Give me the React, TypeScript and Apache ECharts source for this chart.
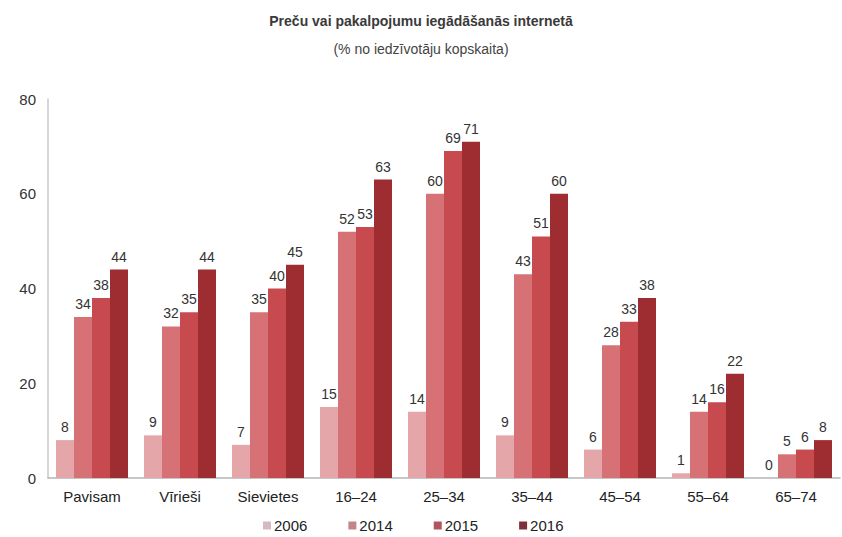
import React, { useEffect, useRef } from "react";
import * as echarts from "echarts";

const categories = ["Pavisam", "Vīrieši", "Sievietes", "16–24", "25–34", "35–44", "45–54", "55–64", "65–74"];
const years = ["2006", "2014", "2015", "2016"];
const v2006 = [8, 9, 7, 15, 14, 9, 6, 1, 0];
const v2014 = [34, 32, 35, 52, 60, 43, 28, 14, 5];
const v2015 = [38, 35, 40, 53, 69, 51, 33, 16, 6];
const v2016 = [44, 44, 45, 63, 71, 60, 38, 22, 8];
const yTicks = [0, 20, 40, 60, 80];

const colors = ["#e4a6a9", "#d67175", "#c74a4f", "#9e2d32"];
const legendColors = ["#d6b9be", "#c4848b", "#b3545c", "#7c3039"];
const FONT = "Liberation Sans, Arial, sans-serif";

export default function App() {
  const ref = useRef<HTMLDivElement>(null);
  useEffect(() => {
    if (!ref.current) return;
    const chart = echarts.init(ref.current, undefined, { renderer: "svg" });
    const values = [v2006, v2014, v2015, v2016];
    chart.setOption({
      animation: false,
      textStyle: { fontFamily: FONT },
      title: [
        {
          text: "Preču vai pakalpojumu iegādāšanās internetā",
          left: "center",
          top: 9,
          textStyle: { fontSize: 14, fontWeight: "bold", color: "#3a3a3a", fontFamily: FONT },
        },
        {
          text: "(% no iedzīvotāju kopskaita)",
          left: "center",
          top: 37,
          textStyle: { fontSize: 14, fontWeight: "normal", color: "#444", fontFamily: FONT },
        },
      ],
      legend: {
        top: 515,
        left: 258,
        itemWidth: 8,
        itemHeight: 8,
        itemGap: 41,
        icon: "rect",
        padding: [3, 5, 2, 5],
        textStyle: { fontSize: 15, color: "#222", fontFamily: FONT, padding: [0, 0, 0, -2] },
        data: years.map((y, i) => ({ name: y, itemStyle: { color: legendColors[i] } })),
      },
      grid: { left: 48, right: 2, top: 99, bottom: 59, containLabel: false },
      xAxis: {
        type: "category",
        data: categories,
        axisLine: { show: true, lineStyle: { color: "#b5b5b5", width: 1.5 } },
        axisTick: { show: false },
        axisLabel: { fontSize: 15, color: "#222", margin: 11, fontFamily: FONT },
      },
      yAxis: {
        type: "value",
        min: yTicks[0],
        max: yTicks[yTicks.length - 1],
        interval: 20,
        axisLine: { show: true, lineStyle: { color: "#c8c8c8", width: 1.5 } },
        axisTick: { show: false },
        splitLine: { show: false },
        axisLabel: { fontSize: 15, color: "#333", margin: 12, fontFamily: FONT },
      },
      series: years.map((y, i) => ({
        name: y,
        type: "bar",
        data: values[i],
        barWidth: 18,
        barGap: "0%",
        itemStyle: { color: colors[i] },
        label: {
          show: true,
          position: "top",
          distance: 6,
          fontSize: 14,
          color: "#333",
          fontFamily: FONT,
        },
      })),
    });
    return () => chart.dispose();
  }, []);
  return (
    <div
      ref={ref}
      style={{ position: "fixed", left: 0, top: 0, width: 842, height: 537, background: "#fff" }}
    />
  );
}
